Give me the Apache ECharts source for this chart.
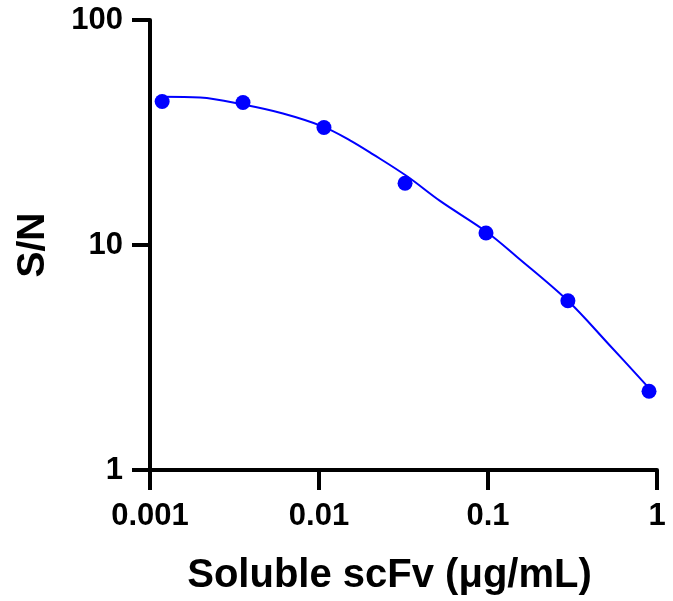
<!DOCTYPE html>
<html>
<head>
<meta charset="utf-8">
<script src="https://cdn.jsdelivr.net/npm/echarts@6/dist/echarts.min.js"></script>
<style>
  html, body { margin: 0; padding: 0; background: #fff; }
  #chart { width: 673px; height: 601px; }
</style>
</head>
<body>
<div id="chart"></div>
<script>
// measured points (concentration in µg/mL, S/N)
const conc = [0.00118, 0.00355, 0.0107, 0.0323, 0.0973, 0.297, 0.897];
const snValues = [43.4, 43.0, 33.3, 18.8, 11.3, 5.65, 2.24];

// fitted curve
const fitConc = [0.00118, 0.00198, 0.00355, 0.00612, 0.01057, 0.01525, 0.02087, 0.0332, 0.0520, 0.0986, 0.1485, 0.297, 0.513, 0.897];
const fitSN = [45.6, 45.2, 42.1, 38.4, 33.6, 29.2, 25.3, 20.2, 15.7, 11.4, 8.85, 5.65, 3.65, 2.31];

const xTickLabels = { '0.001': '0.001', '0.01': '0.01', '0.1': '0.1', '1': '1' };
const yTickLabels = { '1': '1', '10': '10', '100': '100' };

const font = '"Liberation Sans", Arial, sans-serif';
const black = '#000';
const blue = '#0000ff';

function pick(map, v) {
  const key = String(parseFloat(Number(v).toPrecision(6)));
  return map[key] !== undefined ? map[key] : '';
}

const chart = echarts.init(document.getElementById('chart'));
chart.setOption({
  animation: false,
  backgroundColor: '#fff',
  grid: { left: 150, right: 16, top: 20, bottom: 129 },
  xAxis: {
    type: 'log',
    logBase: 10,
    min: 0.001,
    max: 1,
    name: 'Soluble scFv (μg/mL)',
    nameLocation: 'middle',
    nameGap: 86,
    nameTextStyle: {
      fontFamily: font, fontWeight: 'bold', fontSize: 40, color: black,
      padding: [0, 28, 0, 0]
    },
    axisLine: { lineStyle: { color: black, width: 4 } },
    axisTick: { show: true, inside: false, length: 20, lineStyle: { color: black, width: 4 } },
    minorTick: { show: false },
    splitLine: { show: false },
    axisLabel: {
      margin: 31,
      fontFamily: font, fontWeight: 'bold', fontSize: 31, color: black,
      formatter: v => pick(xTickLabels, v)
    }
  },
  yAxis: {
    type: 'log',
    logBase: 10,
    min: 1,
    max: 100,
    name: 'S/N',
    nameLocation: 'middle',
    nameGap: 97,
    nameRotate: 90,
    nameTextStyle: { fontFamily: font, fontWeight: 'bold', fontSize: 39, color: black },
    axisLine: { show: true, lineStyle: { color: black, width: 4 } },
    axisTick: { show: true, inside: false, length: 18, lineStyle: { color: black, width: 4 } },
    minorTick: { show: false },
    splitLine: { show: false },
    axisLabel: {
      margin: 27,
      fontFamily: font, fontWeight: 'bold', fontSize: 31, color: black,
      formatter: v => pick(yTickLabels, v)
    }
  },
  series: [
    {
      name: 'fit',
      type: 'line',
      smooth: 0.35,
      showSymbol: false,
      symbol: 'none',
      data: fitConc.map((x, i) => [x, fitSN[i]]),
      lineStyle: { color: blue, width: 2 },
      z: 2
    },
    {
      name: 'S/N',
      type: 'scatter',
      symbol: 'circle',
      symbolSize: 15,
      data: conc.map((x, i) => [x, snValues[i]]),
      itemStyle: { color: blue, opacity: 1 },
      z: 3
    }
  ]
});
</script>
</body>
</html>
